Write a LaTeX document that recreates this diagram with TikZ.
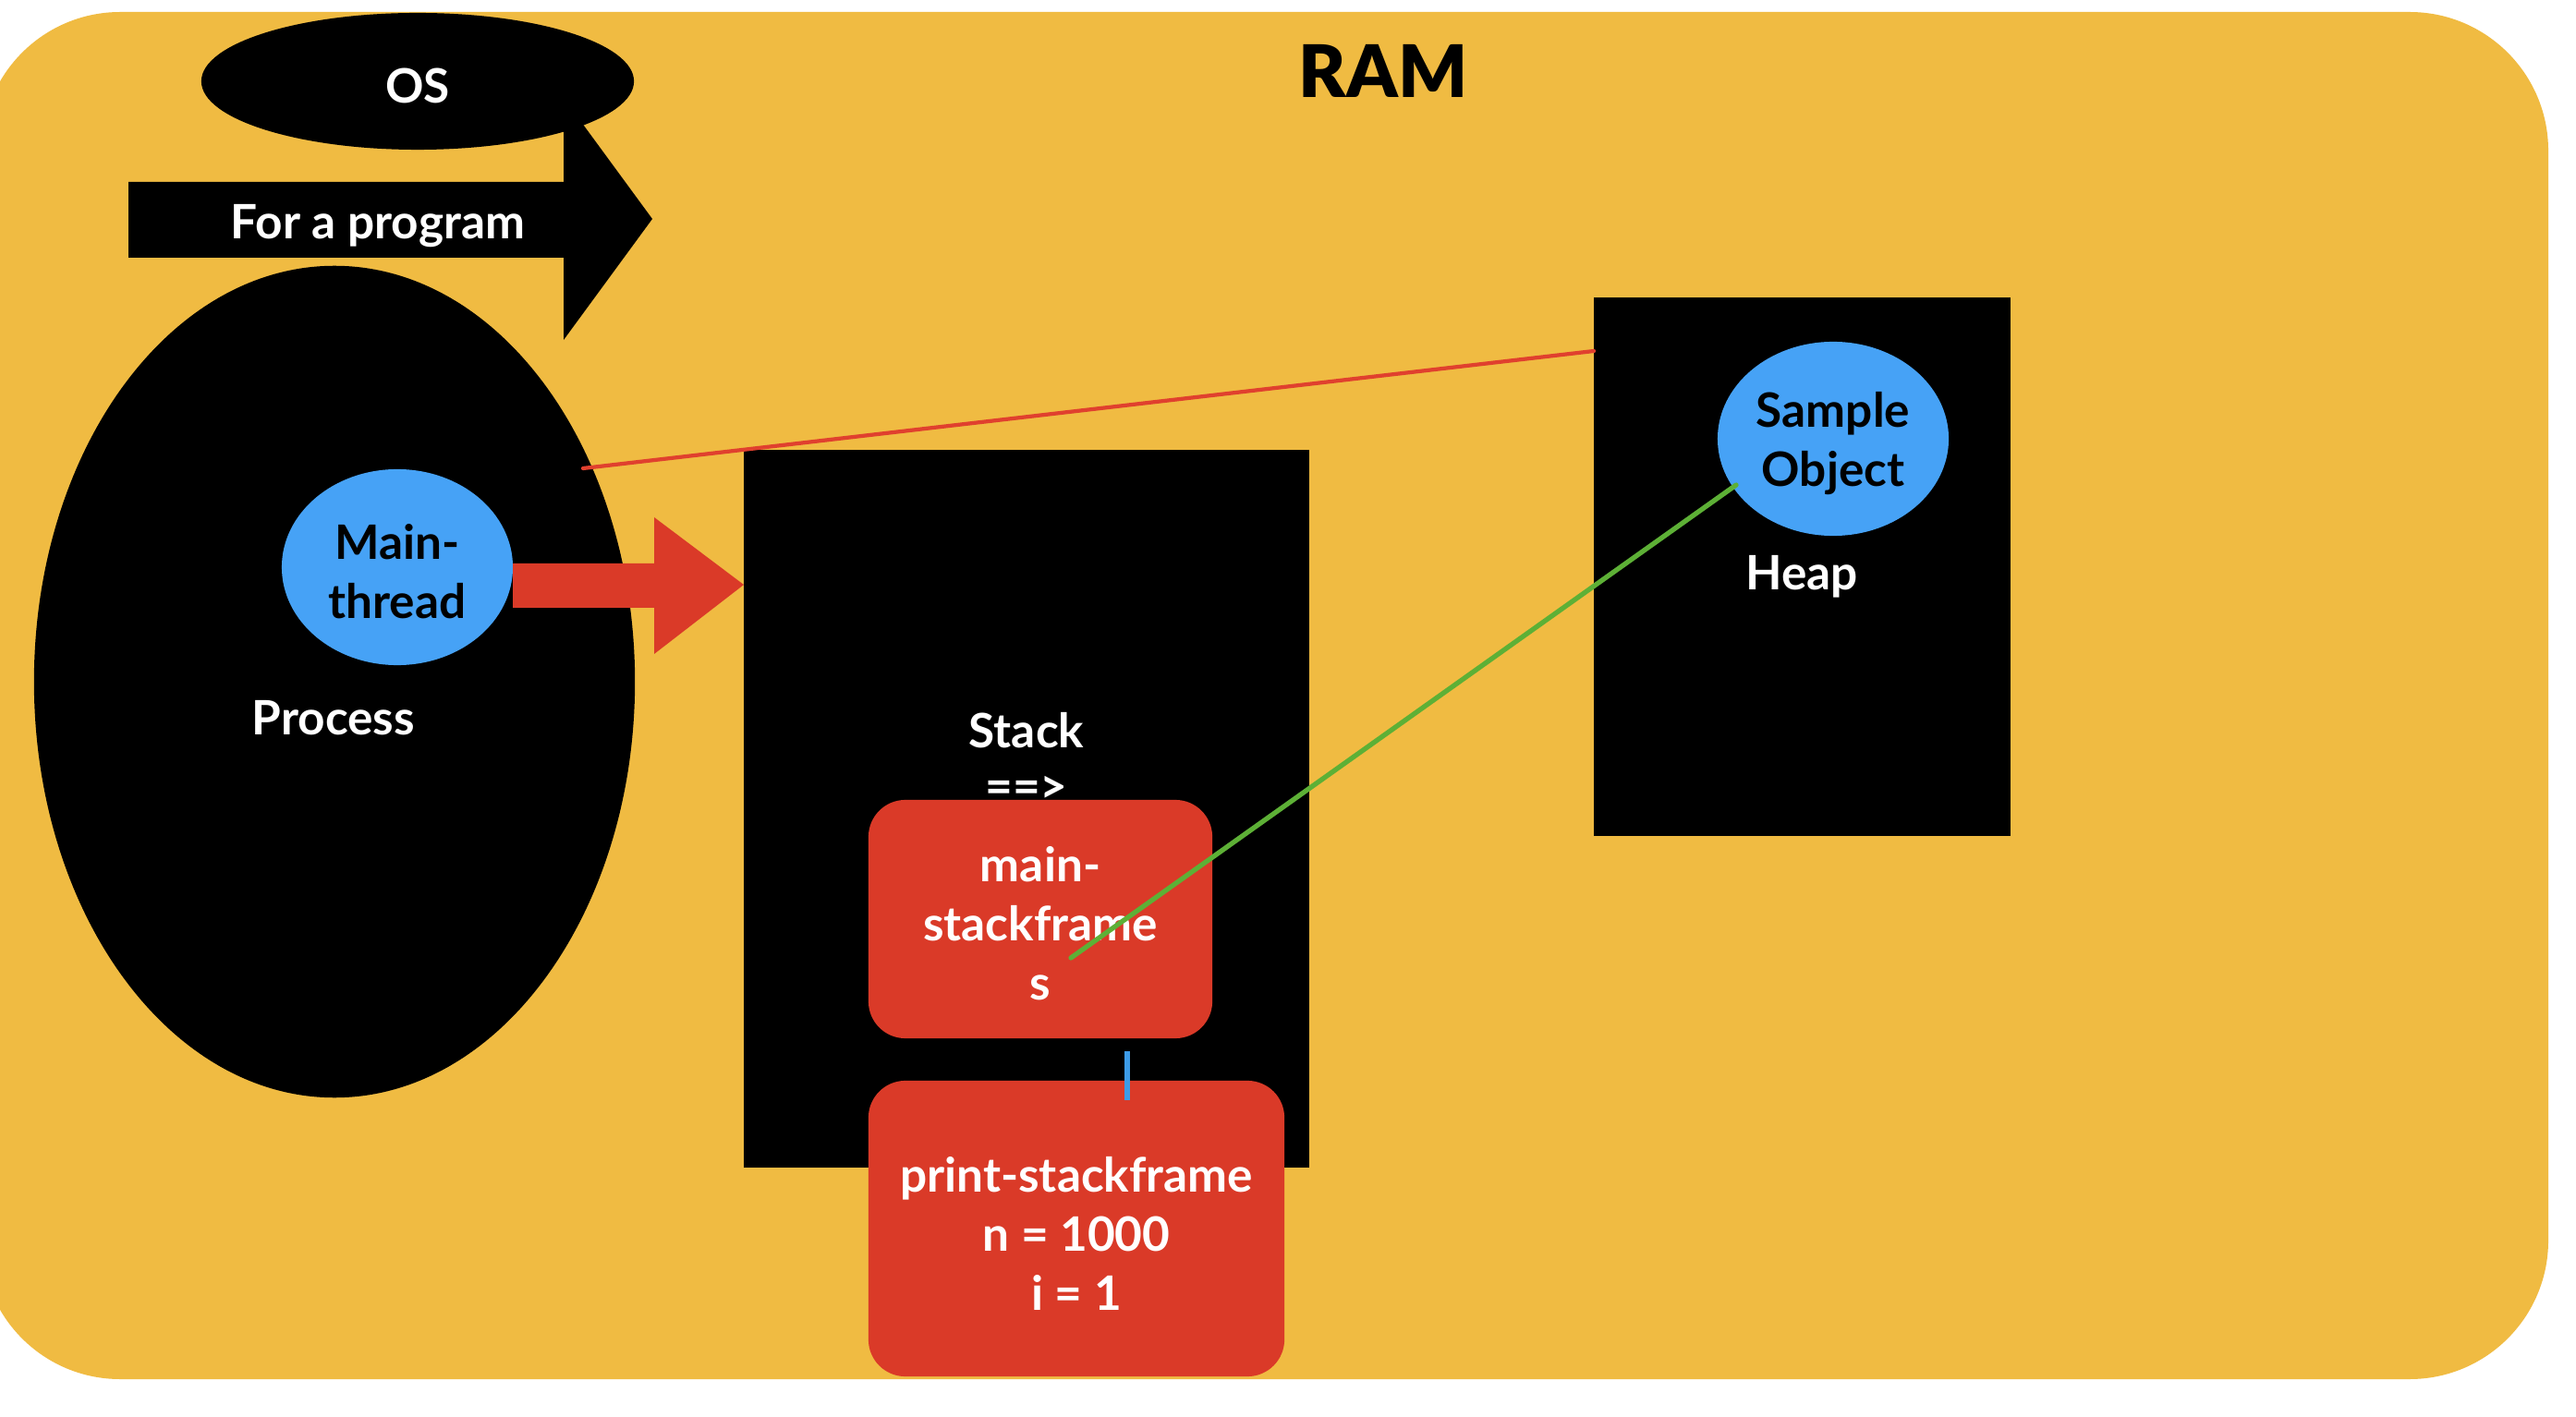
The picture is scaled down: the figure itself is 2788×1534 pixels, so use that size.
\documentclass[tikz,border=0pt]{standalone}
\usepackage{fontspec}
\setmainfont{Lato}
\newfontfamily\ramfont{Lato Black}
\usetikzlibrary{shapes.geometric}
\definecolor{ramyellow}{HTML}{F0BB42}
\definecolor{objblue}{HTML}{46A2F6}
\definecolor{framered}{HTML}{DA3A28}
\definecolor{refred}{HTML}{E0402E}
\definecolor{refgreen}{HTML}{5DB036}
\definecolor{refblue}{HTML}{3C9BE8}
\tikzset{
  txt/.style={font=\fontsize{14.6pt}{18.2pt}\selectfont\bfseries, align=center, inner sep=0pt, yshift=-1.4pt},
  wtxt/.style={txt, text=white},
  btxt/.style={txt, text=black},
  blackell/.style={ellipse, fill=black, inner sep=0pt},
  blueell/.style={ellipse, fill=objblue, inner sep=0pt},
  blackbox/.style={rectangle, fill=black, inner sep=0pt},
  framebox/.style={rectangle, fill=framered, rounded corners=0.4cm, inner sep=0pt},
  pencil/.style={line width=1.2pt, line cap=round}
}
\begin{document}
\begin{tikzpicture}[x=0.01cm,y=-0.01cm]
\useasboundingbox (0,0) rectangle (2788,1534);
\fill[white] (0,0) rectangle (2788,1534);
\begin{scope}
  \clip (0,0) rectangle (2788,1534);
  \fill[ramyellow, rounded corners=1.5cm] (-20,13) rectangle (2758,1493);
\end{scope}

% RAM title
\node[inner sep=0pt, font=\fontsize{22.3pt}{26pt}\ramfont] (ram) at (1497,77) {RAM};

% OS
\node[blackell, minimum width=4.68cm, minimum height=1.48cm] (os) at (452,88) {};
\node[wtxt] (ostxt) at (os) {OS};

% For a program arrow
\fill[black] (139,197) -- (610,197) -- (610,106) -- (706,237) -- (610,368) -- (610,279) -- (139,279) -- cycle;
\node[wtxt] (forprog) at (409,240) {For a program};

% Process
\node[blackell, minimum width=6.5cm, minimum height=9.0cm] (proc) at (362,738) {};
\node[wtxt] (proctxt) at (361,772) {Process};
\node[blueell, minimum width=2.5cm, minimum height=2.12cm] (mt) at (430,614) {};
\node[btxt] (mttxt) at (mt) {Main-\\thread};

% big red arrow
\fill[framered] (555,610) -- (708,610) -- (708,560) -- (805,633) -- (708,708) -- (708,658) -- (555,658) -- cycle;

% Stack
\node[blackbox, minimum width=6.12cm, minimum height=7.77cm] (stack) at (1111,875.5) {};
\node[wtxt] (stacktxt) at (1111,786) {Stack};
\node[wtxt] (stackarr) at (1111,850) {==>};

% Heap
\node[blackbox, minimum width=4.51cm, minimum height=5.83cm] (heap) at (1950.5,613.5) {};
\node[blueell, minimum width=2.5cm, minimum height=2.1cm] (obj) at (1984,475) {};
\node[btxt] (objtxt) at (obj) {Sample\\Object};
\node[wtxt] (heaptxt) at (1950,619) {Heap};

% stack frames
\node[framebox, minimum width=3.72cm, minimum height=2.58cm] (mainsf) at (1126,995) {};
\node[wtxt] (mainsftxt) at (mainsf) {main-\\stackframe\\s};
\node[framebox, minimum width=4.5cm, minimum height=3.2cm] (printsf) at (1165,1330) {};
\node[wtxt] (printsftxt) at (printsf) {print-stackframe\\n = 1000\\i = 1};

% connectors
\coordinate (r1) at (631,507);
\coordinate (r2) at (1725,380);
\draw[pencil, refred] (r1) -- (r2);
\coordinate (g1) at (1159,1037);
\coordinate (g2) at (1879,525);
\draw[pencil, refgreen, line width=1.5pt] (g1) -- (g2);
\coordinate (b1) at (1220,1138);
\coordinate (b2) at (1220,1191);
\draw[refblue, line width=1.6pt] (b1) -- (b2);
\end{tikzpicture}
\end{document}
